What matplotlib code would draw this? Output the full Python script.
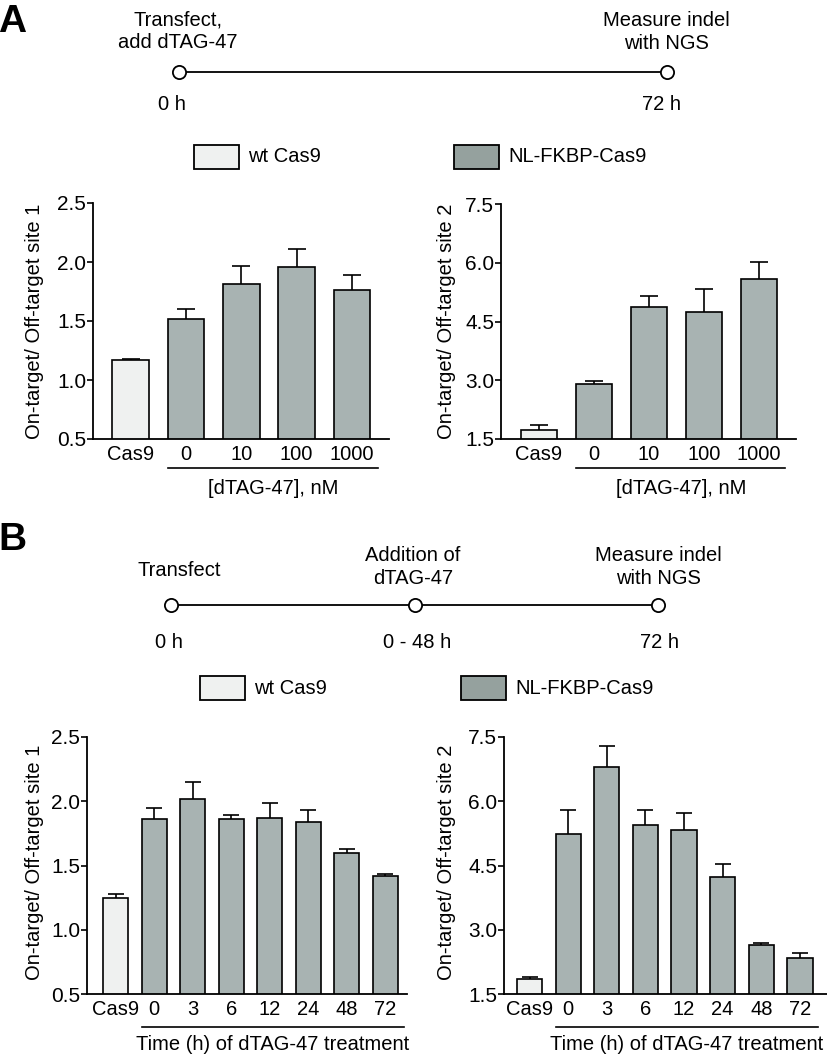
import numpy as np
import matplotlib
matplotlib.use("Agg")
import matplotlib.pyplot as plt
from matplotlib.lines import Line2D
from matplotlib.patches import Rectangle

plt.rcParams['font.family'] = ['Liberation Sans', 'DejaVu Sans']

W, H = 827, 1056

# Panel A: dose response
dose_labels = ['Cas9', '0', '10', '100', '1000']
a_site1 = [1.17, 1.52, 1.81, 1.96, 1.76]
a_site1_err = [0.01, 0.08, 0.16, 0.15, 0.13]
a_site2 = [1.74, 2.90, 4.88, 4.73, 5.58]
a_site2_err = [0.12, 0.07, 0.28, 0.60, 0.44]

# Panel B: time course
time_labels = ['Cas9', '0', '3', '6', '12', '24', '48', '72']
b_site1 = [1.25, 1.86, 2.02, 1.86, 1.87, 1.84, 1.60, 1.42]
b_site1_err = [0.025, 0.09, 0.13, 0.035, 0.115, 0.09, 0.03, 0.012]
b_site2 = [1.84, 5.24, 6.80, 5.45, 5.34, 4.23, 2.64, 2.34]
b_site2_err = [0.05, 0.55, 0.48, 0.35, 0.39, 0.30, 0.06, 0.12]

WT_COLOR = '#eff1f0'
BAR_COLOR = '#a8b3b2'
LEG_COLOR = '#95a19e'
FS = 14.5
TICK_FS = 15


def fx(x):
    return x / W


def fy(y):
    return 1 - y / H


fig = plt.figure(figsize=(W / 100, H / 100), dpi=100)


def make_axes(left, right, top, bottom):
    return fig.add_axes([fx(left), fy(bottom), (right - left) / W, (bottom - top) / H])


def bar_panel(ax, labels, vals, errs, ylim, yticks, xlim, width, cap, group_label, line_dy, label_dy):
    x = np.arange(len(vals))
    vals = np.array(vals)
    errs = np.array(errs)
    colors = [WT_COLOR] + [BAR_COLOR] * (len(vals) - 1)
    ax.bar(x, vals, width=width, color=colors, edgecolor='black', linewidth=1.2, zorder=2)
    # upper error only: stem + top cap
    ax.vlines(x, vals, vals + errs, color='black', linewidth=1.2, zorder=1)
    ax.plot(x, vals + errs, linestyle='none', marker='_', markersize=cap,
            markeredgewidth=1.2, color='black', zorder=1)
    ax.set_ylim(*ylim)
    ax.set_yticks(yticks)
    ax.set_yticklabels(['%.1f' % t for t in yticks], fontsize=TICK_FS)
    ax.set_xlim(*xlim)
    ax.set_xticks(x)
    ax.set_xticklabels(labels, fontsize=FS)
    ax.tick_params(axis='x', length=0, pad=4)
    ax.tick_params(axis='y', length=4, width=1.2, pad=1)
    for s in ['top', 'right']:
        ax.spines[s].set_visible(False)
    for s in ['left', 'bottom']:
        ax.spines[s].set_linewidth(1.3)
    # group underline under treated bars
    tr = ax.get_xaxis_transform()
    x0, x1 = 0.68, len(vals) - 1 + 0.47
    ax_h = ax.get_position().height * H
    ax.add_line(Line2D([x0, x1], [-line_dy / ax_h] * 2, transform=tr, color='black',
                       linewidth=1.2, clip_on=False))
    ax.text((x0 + x1) / 2, -label_dy / ax_h, group_label, transform=tr, ha='center',
            va='center', fontsize=FS, clip_on=False)


def legend(y, wt_x, nl_x):
    for bx, col, lab in [(wt_x, WT_COLOR, 'wt Cas9'), (nl_x, LEG_COLOR, 'NL-FKBP-Cas9')]:
        fig.patches.append(Rectangle((fx(bx), fy(y + 12)), 45 / W, 24 / H, transform=fig.transFigure,
                                     facecolor=col, edgecolor='black', linewidth=1.3))
        fig.text(fx(bx + 54), fy(y), lab, fontsize=FS, ha='left', va='center')


def timeline(y, xs):
    fig.add_artist(Line2D([fx(xs[0]), fx(xs[-1])], [fy(y), fy(y)], transform=fig.transFigure,
                          color='black', linewidth=1.3, zorder=1))
    fig.add_artist(Line2D([fx(v) for v in xs], [fy(y)] * len(xs), transform=fig.transFigure,
                          linestyle='none', marker='o', markersize=9.5, markerfacecolor='white',
                          markeredgecolor='black', markeredgewidth=1.3, zorder=2))


# ---------- Panel A ----------
fig.text(fx(12), fy(22), 'A', fontsize=28, fontweight='bold', ha='center', va='center')
timeline(72, [179, 667])
fig.text(fx(178), fy(31), 'Transfect,\nadd dTAG-47', fontsize=FS, ha='center', va='center', linespacing=1.25)
fig.text(fx(666), fy(32), 'Measure indel\nwith NGS', fontsize=FS, ha='center', va='center', linespacing=1.25)
fig.text(fx(172), fy(104), '0 h', fontsize=FS, ha='center', va='center')
fig.text(fx(662), fy(104), '72 h', fontsize=FS, ha='center', va='center')
legend(157, 194, 454)

ax1 = make_axes(93, 389, 203, 439)
bar_panel(ax1, dose_labels, a_site1, a_site1_err, (0.5, 2.5), [0.5, 1.0, 1.5, 2.0, 2.5],
          (-0.68, 4.67), 0.66, 13, '[dTAG-47], nM', 29, 49)
ax2 = make_axes(501, 796, 204, 439)
bar_panel(ax2, dose_labels, a_site2, a_site2_err, (1.5, 7.5), [1.5, 3.0, 4.5, 6.0, 7.5],
          (-0.69, 4.67), 0.66, 13, '[dTAG-47], nM', 29, 49)
fig.text(fx(35), fy(321), 'On-target/ Off-target site 1', rotation=90, fontsize=FS, ha='center', va='center')
fig.text(fx(447), fy(321), 'On-target/ Off-target site 2', rotation=90, fontsize=FS, ha='center', va='center')

# ---------- Panel B ----------
fig.text(fx(12), fy(540), 'B', fontsize=28, fontweight='bold', ha='center', va='center')
timeline(605, [171, 415, 658])
fig.text(fx(179), fy(570), 'Transfect', fontsize=FS, ha='center', va='center')
fig.text(fx(413), fy(567), 'Addition of\ndTAG-47', fontsize=FS, ha='center', va='center', linespacing=1.25)
fig.text(fx(658), fy(567), 'Measure indel\nwith NGS', fontsize=FS, ha='center', va='center', linespacing=1.25)
fig.text(fx(169), fy(642), '0 h', fontsize=FS, ha='center', va='center')
fig.text(fx(417), fy(642), '0 - 48 h', fontsize=FS, ha='center', va='center')
fig.text(fx(659), fy(642), '72 h', fontsize=FS, ha='center', va='center')
legend(688, 200, 461)

ax3 = make_axes(87, 407, 737, 994)
bar_panel(ax3, time_labels, b_site1, b_site1_err, (0.5, 2.5), [0.5, 1.0, 1.5, 2.0, 2.5],
          (-0.74, 7.56), 0.65, 12, 'Time (h) of dTAG-47 treatment', 33, 51)
ax4 = make_axes(504, 827, 737, 994)
bar_panel(ax4, time_labels, b_site2, b_site2_err, (1.5, 7.5), [1.5, 3.0, 4.5, 6.0, 7.5],
          (-0.66, 7.7), 0.65, 12, 'Time (h) of dTAG-47 treatment', 33, 51)
fig.text(fx(35), fy(862), 'On-target/ Off-target site 1', rotation=90, fontsize=FS, ha='center', va='center')
fig.text(fx(447), fy(862), 'On-target/ Off-target site 2', rotation=90, fontsize=FS, ha='center', va='center')

fig.savefig('out.png', dpi=100)
